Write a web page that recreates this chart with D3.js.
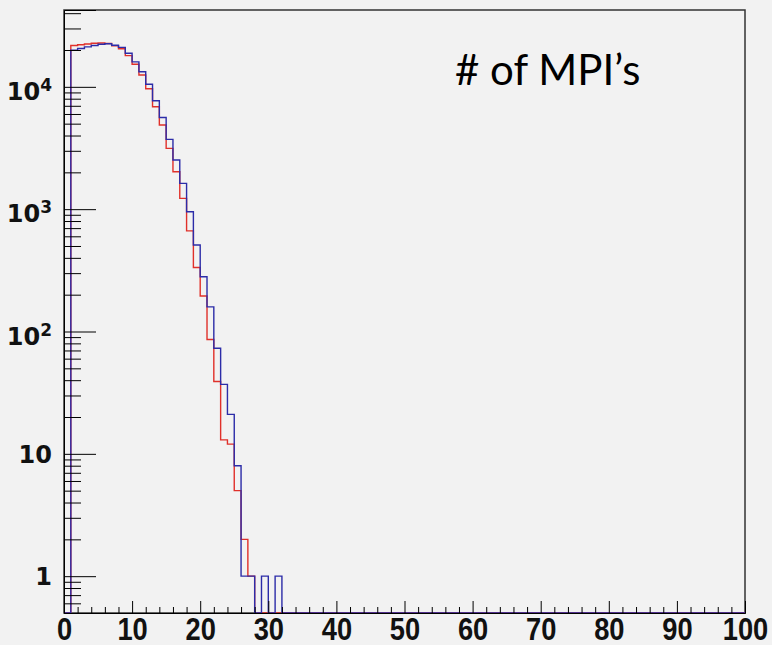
<!DOCTYPE html>
<html>
<head>
<meta charset="utf-8">
<script src="https://cdn.jsdelivr.net/npm/d3@7"></script>
<style>
  body { margin: 0; background: #f2f2f2; }
  svg { display: block; }
</style>
</head>
<body>
<svg id="chart" width="772" height="645"></svg>
<script>
// histogram bins are 1 unit wide, bin i covers [i, i+1)
const nBins = 100
const xTickValues = [0, 10, 20, 30, 40, 50, 60, 70, 80, 90, 100]
const yTickValues = [1, 10, 100, 1000, 10000]
const yTickLabels = [['1', ''], ['10', ''], ['10', '2'], ['10', '3'], ['10', '4']]

// counts per bin, starting at bin 0 (empty bins after the list)
const redCounts = [0, 21800, 22100, 22400, 22700, 22800, 22600, 21700, 20500, 18000,
    15300, 12500, 9650, 6870, 4870, 3140, 2020, 1225, 665, 334,
    195, 86, 39, 13, 12, 5, 2, 1]
const blueCounts = [0, 19900, 20600, 21200, 21800, 22300, 22500, 21900, 21000, 18800,
    16000, 13300, 10500, 7700, 5620, 3720, 2520, 1625, 953, 509,
    280, 159, 73, 37, 21, 8, 1, 1, 0, 1,
    0, 1]

const title = '# of MPI\u2019s'

const margin = { left: 64, top: 10, right: 27, bottom: 32 }
const width = 772, height = 645
const yMin = 0.5, yMax = 42470

const svg = d3.select('#chart')

const x = d3.scaleLinear()
    .domain([0, nBins])
    .range([margin.left, width - margin.right])

const y = d3.scaleLog()
    .domain([yMin, yMax])
    .range([height - margin.bottom, margin.top])

// frame
svg.append('rect')
    .attr('x', x(0))
    .attr('y', y(yMax))
    .attr('width', x(nBins) - x(0))
    .attr('height', y(yMin) - y(yMax))
    .attr('fill', '#f2f2f2')
    .attr('stroke', '#333')
    .attr('stroke-width', 1.5)

// histograms
function binPoints(counts) {
    const pts = []
    for (let i = 0; i < nBins; i++) pts.push([i, counts[i] || 0])
    pts.push([nBins, counts[nBins - 1] || 0])
    return pts
}

const line = d3.line()
    .x(d => x(d[0]))
    .y(d => y(Math.max(d[1], yMin)))
    .curve(d3.curveStepAfter)

svg.append('path')
    .attr('d', line(binPoints(redCounts)))
    .attr('fill', 'none')
    .attr('stroke', '#e0302a')
    .attr('stroke-width', 1.4)

svg.append('path')
    .attr('d', line(binPoints(blueCounts)))
    .attr('fill', 'none')
    .attr('stroke', '#2c2ca8')
    .attr('stroke-width', 1.4)

// x axis: major ticks every 10, minor every 2, drawn inside the frame
const xMinor = d3.range(0, nBins + 1, 2).filter(v => v % 10 !== 0)

svg.append('g')
    .attr('transform', `translate(0,${y(yMin)})`)
    .call(d3.axisBottom(x).tickValues(xMinor).tickSize(-6).tickFormat(''))
    .call(g => g.select('.domain').remove())

const xAxis = svg.append('g')
    .attr('transform', `translate(0,${y(yMin)})`)
    .call(d3.axisBottom(x).tickValues(xTickValues).tickSize(-12).tickPadding(5).tickFormat(d3.format('d')))

xAxis.select('.domain').attr('stroke', '#000')
xAxis.selectAll('text')
    .attr('font-family', '"Liberation Sans", Arial, sans-serif')
    .attr('font-weight', 'bold')
    .attr('font-size', 31)
    .attr('fill', '#111')
    .attr('transform', 'scale(0.88,1)')

// y axis: log decades with minor ticks 2..9
const yMinor = []
for (const decade of [0.1, 1, 10, 100, 1000, 10000]) {
    for (let m = 2; m <= 9; m++) {
        const v = m * decade
        if (v > yMin && v < yMax) yMinor.push(v)
    }
}

svg.append('g')
    .attr('transform', `translate(${x(0)},0)`)
    .call(d3.axisLeft(y).tickValues(yMinor).tickSize(-17).tickFormat(''))
    .call(g => g.select('.domain').remove())

const yAxis = svg.append('g')
    .attr('transform', `translate(${x(0)},0)`)
    .call(d3.axisLeft(y).tickValues(yTickValues).tickSize(-32).tickFormat(''))

yAxis.select('.domain').attr('stroke', '#000')

const yLabels = svg.append('g')
    .attr('font-family', '"DejaVu Sans", sans-serif')
    .attr('font-weight', 'bold')
    .attr('fill', '#111')
    .attr('text-anchor', 'end')

yTickValues.forEach((v, i) => {
    const [base, sup] = yTickLabels[i]
    const t = yLabels.append('text')
        .attr('x', 52)
        .attr('y', y(v) + (sup ? 13 : 9))
        .attr('font-size', 24)
    t.append('tspan').text(base)
    if (sup) {
        t.append('tspan')
            .attr('font-size', 17)
            .attr('dy', -9)
            .text(sup)
    }
})

// title
svg.append('text')
    .attr('x', 455)
    .attr('y', 85)
    .attr('font-family', 'Lato, "Open Sans", sans-serif')
    .attr('font-size', 42)
    .attr('fill', '#000')
    .text(title)
</script>
</body>
</html>
